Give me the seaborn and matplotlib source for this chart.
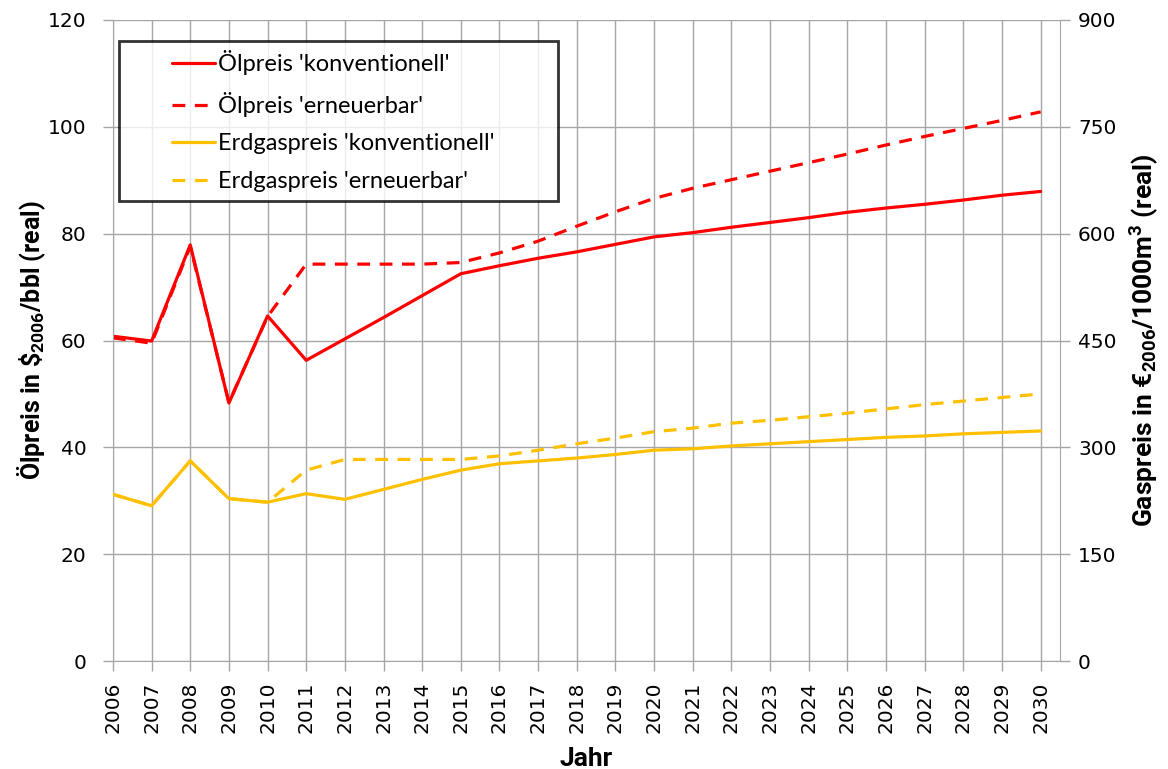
import numpy as np
import pandas as pd
import matplotlib
matplotlib.use("Agg")
import matplotlib.pyplot as plt
from matplotlib import font_manager
import seaborn as sns

# Jahre und Preise
years = list(range(2006, 2031))

oil_konv = [60.8, 59.9, 77.9, 48.3, 64.6, 56.3, 60.3, 64.3, 68.4, 72.5,
            74.0, 75.4, 76.6, 78.0, 79.4, 80.2, 81.2, 82.1, 83.0, 84.0,
            84.8, 85.5, 86.3, 87.2, 87.9]
oil_ern = [60.5, 59.5, 77.6, 48.4, 64.5, 74.3, 74.3, 74.3, 74.3, 74.6,
           76.4, 78.6, 81.4, 84.1, 86.6, 88.5, 90.1, 91.7, 93.3, 94.9,
           96.6, 98.2, 99.7, 101.2, 102.8]
# Gaspreise in EUR/1000m3 (rechte Achse)
gas_konv = [234, 218, 281, 228, 223, 235, 227, 241, 255, 268,
            277, 281, 285, 290, 296, 298, 302, 305, 308, 311,
            314, 316, 319, 321, 323]
gas_ern = [234, 218, 281, 228, 223, 268, 283, 283, 283, 283,
           288, 296, 305, 313, 322, 327, 334, 338, 343, 348,
           354, 360, 365, 370, 375]

labels = ["Ölpreis 'konventionell'", "Ölpreis 'erneuerbar'",
          "Erdgaspreis 'konventionell'", "Erdgaspreis 'erneuerbar'"]

RED = "#FF0000"
GOLD = "#FFC000"
GRID = "#a6a6a6"

# schmale fette Schrift fuer die Achsentitel, falls vorhanden
names = {f.name for f in font_manager.fontManager.ttflist}
LABEL_FONT = "Liberation Sans Narrow" if "Liberation Sans Narrow" in names else "Roboto"

sns.set_style("white")
plt.rcParams["font.family"] = ["DejaVu Sans"]
plt.rcParams["text.color"] = "black"
plt.rcParams["axes.labelcolor"] = "black"
plt.rcParams["mathtext.fontset"] = "custom"
plt.rcParams["mathtext.bf"] = LABEL_FONT + ":bold"
plt.rcParams["mathtext.rm"] = LABEL_FONT
plt.rcParams["mathtext.default"] = "bf"

df_oil = pd.DataFrame({"Jahr": years, "konv": oil_konv, "ern": oil_ern})
df_gas = pd.DataFrame({"Jahr": years, "konv": gas_konv, "ern": gas_ern})

fig = plt.figure(figsize=(11.68, 7.69), dpi=100)
ax = fig.add_axes([0.0967, 0.1404, 0.8108, 0.8336])
ax2 = ax.twinx()

sns.lineplot(data=df_oil, x="Jahr", y="konv", ax=ax, color=RED, lw=2.3, label=labels[0], legend=False)
sns.lineplot(data=df_oil, x="Jahr", y="ern", ax=ax, color=RED, lw=2.3, label=labels[1], legend=False)
ax.lines[1].set_linestyle((0, (4, 3)))
sns.lineplot(data=df_gas, x="Jahr", y="konv", ax=ax2, color=GOLD, lw=2.3, label=labels[2], legend=False)
sns.lineplot(data=df_gas, x="Jahr", y="ern", ax=ax2, color=GOLD, lw=2.3, label=labels[3], legend=False)
ax2.lines[1].set_linestyle((0, (4, 3)))

ax.set_xlim(2006, 2030.5)
ax.set_ylim(0, 120)
ax2.set_ylim(0, 900)
ax.set_yticks(np.arange(0, 121, 20))
ax2.set_yticks(np.arange(0, 901, 150))
ax.set_xticks(years)
ax.set_xticklabels([str(y) for y in years], rotation=90)

ax.grid(True, color=GRID, lw=1)
ax.set_axisbelow(True)
for a in (ax, ax2):
    for s in a.spines.values():
        s.set_visible(False)
    a.tick_params(labelsize=14.5, colors="black", length=7, width=1)
ax.spines["left"].set_visible(True)
ax.spines["left"].set_color(GRID)
ax.spines["bottom"].set_visible(True)
ax.spines["bottom"].set_color(GRID)
ax2.spines["right"].set_visible(True)
ax2.spines["right"].set_color(GRID)
ax.tick_params(axis="y", color=GRID, direction="out", left=True, pad=12)
ax.tick_params(axis="x", color=GRID, direction="out", bottom=True, pad=8)
ax2.tick_params(axis="y", color=GRID, direction="out", right=True, pad=6)

lab_kw = dict(fontweight="bold", family=[LABEL_FONT, "DejaVu Sans"])
ax.set_xlabel("Jahr", fontsize=19, labelpad=10, **lab_kw)
ax.set_ylabel("Ölpreis in \\$$_{2006}$/bbl (real)", fontsize=18, labelpad=0, **lab_kw)
ax2.set_ylabel("Gaspreis in €$_{2006}$/1000m$^3$ (real)", fontsize=19, labelpad=8, **lab_kw)

handles = ax.lines[:2] + ax2.lines[:2]
leg = ax2.legend(handles, labels, loc="upper left", mode="expand",
                 bbox_to_anchor=(0.1019, 0.74, 0.376, 0.2067),
                 bbox_transform=fig.transFigure, fontsize=17, frameon=True, fancybox=False,
                 handlelength=3.65, handletextpad=0.15, labelspacing=0.7,
                 borderpad=0.4, borderaxespad=0)
leg.get_frame().set_edgecolor("black")
leg.get_frame().set_linewidth(2)
for t in leg.get_texts():
    t.set_family(["Lato", "DejaVu Sans"])
for ln in leg.get_lines():
    xd = np.asarray(ln.get_xdata(), dtype=float)
    x0, x1 = xd.min(), xd.max()
    ln.set_xdata(np.linspace(x0 + 0.5 * (x1 - x0), x1, len(xd)))

fig.savefig("out.png", dpi=100)
